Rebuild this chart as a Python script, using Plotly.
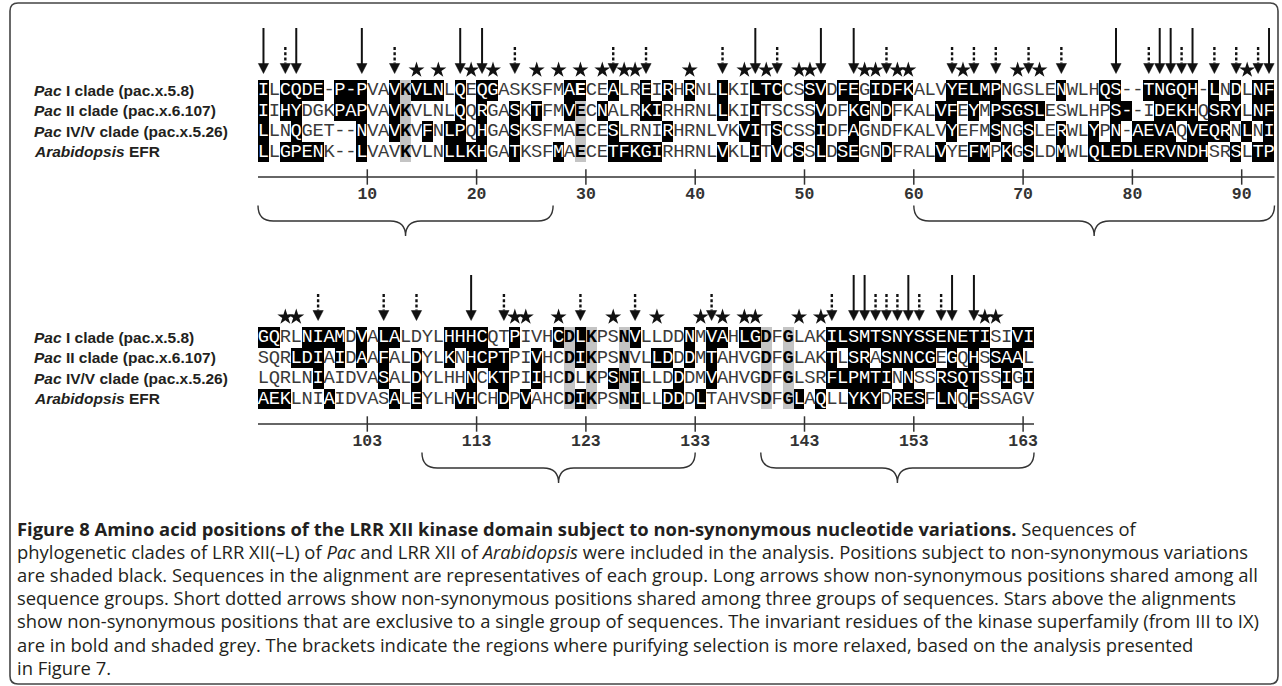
import plotly.graph_objects as go

# ---------------- data ----------------
row_labels = [
    "<b><i>Pac</i> I clade (pac.x.5.8)</b>",
    "<b><i>Pac</i> II clade (pac.x.6.107)</b>",
    "<b><i>Pac</i> IV/V clade (pac.x.5.26)</b>",
    "<b><i>Arabidopsis</i> EFR</b>",
]

seq_block1 = [
    "ILCQDE-P-PVAVKVLNLQEQGASKSFMAECEALREIRHRNLLKILTCCSSVDFEGIDFKALVYELMPNGSLENWLHQS--TNGQH-LNDLNF",
    "IIHYDGKPAPVAVKVLNLQQRGASKTFMVECNALRKIRHRNLLKIITSCSSVDFKGNDFKALVFEYMPSGSLESWLHPS--IDEKHQSRYLNF",
    "LLNQGET--NVAVKVFNLPQHGASKSFMAECESLRNIRHRNLVKVITSCSSIDFAGNDFKALVYEFMSNGSLERWLYPN-AEVAQVEQRNLNI",
    "LLGPENK--LVAVKVLNLLKHGATKSFMAECETFKGIRHRNLVKLITVCSSLDSEGNDFRALVYEFMPKGSLDMWLQLEDLERVNDHSRSLTP",
]
# 0 = unshaded, 1 = shaded black (non-synonymous), 2 = shaded grey (invariant)
shade_block1 = [
    "1011110111" "0012111010" "1100000011" "0010010101" "0010011100" "1101101111" "0001111100" "0001000110" "0111110101" "011",
    "1011000111" "0012000010" "1001010012" "0100011000" "0010010000" "0100110100" "0011010111" "1100000011" "0011110111" "011",
    "1001000001" "0012010110" "1001000002" "0010000100" "0000110100" "0100100000" "0001000100" "1001001010" "1111011110" "101",
    "1011110001" "0002000111" "1001000102" "0011111000" "0010010101" "0101100100" "0010011010" "1001001111" "1111111001" "011",
]
seq_block2 = [
    "GQRLNIAMDVALALDYLHHHCQTPIVHCDLKPSNVLLDDNMVAHLGDFGLAKILSMTSNYSSENETISIVI",
    "SQRLDIAIDAAFALDYLKNHCPTPIVHCDIKPSNVLLDDDMTAHVGDFGLAKTLSRASNNCGEGQHSSAAL",
    "LQRLNIAIDVASALDYLHHNCKTPIIHCDLKPSNILLDDDMVAHVGDFGLSRFLPMTINNSSRSQTSSIGI",
    "AEKLNIAIDVASALEYLHVHCHDPVAHCDIKPSNILLDDDLTAHVSDFGLAQLLYKYDRESFLNQFSSAGV",
]
shade_block2 = [
    "1100111101" "0110000111" "1001000121" "2002100001" "0110112020" "0011111111" "1111111001" "1",
    "0001110101" "0100100101" "1110010021" "2002001101" "0100002020" "0010110111" "1101010111" "0",
    "0000010000" "0100100001" "0110010020" "2012100010" "0100002020" "0011111101" "0011110010" "1",
    "1110001000" "0010100011" "0010100021" "2002100110" "1000002021" "0100111011" "1011010000" "0",
]
start_block1 = 1
start_block2 = 94
bold_positions = [14, 30, 122, 124, 127, 140, 142]

solid_block1 = [1, 4, 10, 19, 21, 46, 52, 55, 79, 83, 84, 86, 93]
dotted_block1 = [3, 13, 24, 33, 36, 43, 48, 58, 64, 66, 68, 71, 74, 82, 85, 88, 90, 92]
stars_block1 = [15, 17, 20, 22, 26, 28, 30, 32, 34, 35, 40, 45, 47, 50, 51, 56, 57, 59, 60,
                65, 70, 72, 91]
solid_block2 = [113, 148, 149, 153, 157, 159]
dotted_block2 = [99, 105, 108, 116, 123, 128, 135, 146, 150, 151, 152, 154, 156]
stars_block2 = [96, 97, 117, 118, 121, 126, 130, 134, 136, 138, 139, 143, 145, 160, 161]

ticks_block1 = [10, 20, 30, 40, 50, 60, 70, 80, 90]
ticks_block2 = [103, 113, 123, 133, 143, 153, 163]
brackets_block1 = [[1, 27], [61, 93]]
brackets_block2 = [[109, 133], [140, 164]]

caption_lines = [
    "<b>Figure 8 Amino acid positions of the LRR XII kinase domain subject to non-synonymous nucleotide variations.</b> Sequences of",
    "phylogenetic clades of LRR XII(–L) of <i>Pac</i> and LRR XII of <i>Arabidopsis</i> were included in the analysis. Positions subject to non-synonymous variations",
    "are shaded black. Sequences in the alignment are representatives of each group. Long arrows show non-synonymous positions shared among all",
    "sequence groups. Short dotted arrows show non-synonymous positions shared among three groups of sequences. Stars above the alignments",
    "show non-synonymous positions that are exclusive to a single group of sequences. The invariant residues of the kinase superfamily (from III to IX)",
    "are in bold and shaded grey. The brackets indicate the regions where purifying selection is more relaxed, based on the analysis presented",
    "in Figure 7.",
]

# ---------------- layout constants ----------------
FIG_W, FIG_H = 1282, 686
COL_PX = 10.93
SEQ_LEFT_PX = 258
ROW_H = 20.5
BLOCK_TOPS = [80, 327]
SEQ_FONT = "Liberation Mono, Courier New, monospace"
INK = "#231f20"
LETTER = "#3a3a3a"

x_lo = 0.5 - SEQ_LEFT_PX / COL_PX
x_hi = 0.5 + (FIG_W - SEQ_LEFT_PX) / COL_PX

fig = go.Figure()
shapes = []
annotations = []


def add_block(seqs, shades, start, solid, dotted, stars, ticks, brackets, top, xa, xref):
    n = len(seqs[0])
    pos = list(range(start, start + n))
    ycent = [top + ROW_H * (r + 0.5) for r in range(len(seqs))]
    z = [[1 if ch == "1" else (2 if ch == "2" else None) for ch in row] for row in shades]
    fig.add_trace(go.Heatmap(
        x=pos, y=ycent, z=z, xaxis=xa, yaxis="y", zmin=1, zmax=2,
        colorscale=[[0, "#000000"], [0.5, "#000000"], [0.5, "#c4c4c4"], [1, "#c4c4c4"]],
        showscale=False, hoverinfo="skip"))
    for r, (s, sh) in enumerate(zip(seqs, shades)):
        txt = [f"<b>{c}</b>" if p in bold_positions else c for p, c in zip(pos, s)]
        cols = ["#ffffff" if k == "1" else ("#000000" if k == "2" else LETTER) for k in sh]
        fig.add_trace(go.Scatter(
            x=pos, y=[ycent[r] + 0.5] * n, mode="text", text=txt, textposition="middle center",
            textfont=dict(family=SEQ_FONT, size=18.8, color=cols),
            xaxis=xa, yaxis="y", hoverinfo="skip"))
    # arrows
    base, tip = top - 16.5, top - 6.5
    sx, sy = [], []
    for c in solid:
        sx += [c, c, None]
        sy += [top - 52, base + 1, None]
    fig.add_trace(go.Scatter(x=sx, y=sy, mode="lines", line=dict(color="#111", width=2),
                             xaxis=xa, yaxis="y", hoverinfo="skip"))
    dx, dy = [], []
    for c in dotted:
        dx += [c, c, None]
        dy += [top - 33, base, None]
    fig.add_trace(go.Scatter(x=dx, y=dy, mode="lines",
                             line=dict(color="#111", width=2.4, dash="3px,2.2px"),
                             xaxis=xa, yaxis="y", hoverinfo="skip"))
    hx, hy = [], []
    for c in solid + dotted:
        hx += [c - 0.47, c + 0.47, c, c - 0.47, None]
        hy += [base, base, tip, base, None]
    fig.add_trace(go.Scatter(x=hx, y=hy, mode="lines", fill="toself", fillcolor="#111",
                             line=dict(color="#111", width=0.5),
                             xaxis=xa, yaxis="y", hoverinfo="skip"))
    fig.add_trace(go.Scatter(x=stars, y=[top - 10] * len(stars), mode="markers",
                             marker=dict(symbol="star", size=12, color="#111"),
                             xaxis=xa, yaxis="y", hoverinfo="skip"))
    # position axis
    ay = top + 97
    fig.add_trace(go.Scatter(x=[start - 0.5, start + n - 0.5], y=[ay, ay], mode="lines",
                             line=dict(color="#333", width=1.5),
                             xaxis=xa, yaxis="y", hoverinfo="skip"))
    tx = [t + 0.5 for t in ticks]
    fig.add_trace(go.Scatter(x=tx, y=[ay] * len(ticks), mode="markers",
                             marker=dict(symbol="line-ns", size=11,
                                         line=dict(color="#333", width=1.5)),
                             xaxis=xa, yaxis="y", hoverinfo="skip"))
    fig.add_trace(go.Scatter(x=tx, y=[top + 115] * len(ticks), mode="text",
                             text=[f"<b>{t}</b>" for t in ticks], textposition="middle center",
                             textfont=dict(family=SEQ_FONT, size=16.5, color="#333"),
                             xaxis=xa, yaxis="y", hoverinfo="skip"))
    # brackets
    yt, yl, yp = top + 125.5, top + 141, top + 156
    rr = 1.4
    for s0, e0 in brackets:
        x0, x1 = s0 - 0.5, e0 + 0.5
        xm = (x0 + x1) / 2
        path = (f"M {x0},{yt} Q {x0},{yl} {x0 + rr},{yl} L {xm - rr},{yl} "
                f"Q {xm},{yl} {xm},{yp} Q {xm},{yl} {xm + rr},{yl} "
                f"L {x1 - rr},{yl} Q {x1},{yl} {x1},{yt}")
        shapes.append(dict(type="path", path=path, xref=xref, yref="y",
                           line=dict(color="#333", width=1.4)))
    # row labels
    for r, lab in enumerate(row_labels):
        annotations.append(dict(text=lab, x=32 / FIG_W, xref="paper", y=ycent[r], yref="y",
                                xanchor="left", yanchor="middle", showarrow=False,
                                font=dict(family="Liberation Sans, Arial, sans-serif",
                                          size=15.5, color=INK)))


add_block(seq_block1, shade_block1, start_block1, solid_block1, dotted_block1, stars_block1,
          ticks_block1, brackets_block1, BLOCK_TOPS[0], "x", "x")
add_block(seq_block2, shade_block2, start_block2, solid_block2, dotted_block2, stars_block2,
          ticks_block2, brackets_block2, BLOCK_TOPS[1], "x2", "x2")

# caption
for k, line in enumerate(caption_lines):
    annotations.append(dict(text=line, x=15 / FIG_W, xref="paper", y=528 + 23.2 * k, yref="y",
                            xanchor="left", yanchor="middle", showarrow=False,
                            font=dict(family="Open Sans, sans-serif", size=18.4, color=INK)))

# frame (rounded box)
L, R, T, B, rad = 10 / FIG_W, 1278 / FIG_W, 3, 684, 8
rx = rad / FIG_W
frame = (f"M {L + rx},{T} L {R - rx},{T} Q {R},{T} {R},{T + rad} L {R},{B - rad} "
         f"Q {R},{B} {R - rx},{B} L {L + rx},{B} Q {L},{B} {L},{B - rad} "
         f"L {L},{T + rad} Q {L},{T} {L + rx},{T} Z")
shapes.append(dict(type="path", path=frame, xref="paper", yref="y",
                   line=dict(color="#444", width=1.6)))

fig.update_layout(
    width=FIG_W, height=FIG_H, margin=dict(l=0, r=0, t=0, b=0),
    paper_bgcolor="white", plot_bgcolor="white", showlegend=False,
    xaxis=dict(range=[x_lo, x_hi], visible=False, fixedrange=True),
    xaxis2=dict(range=[x_lo + 93, x_hi + 93], visible=False, overlaying="x", fixedrange=True),
    yaxis=dict(range=[FIG_H, 0], visible=False, fixedrange=True),
    shapes=shapes, annotations=annotations,
)
fig.write_html("out.html")
